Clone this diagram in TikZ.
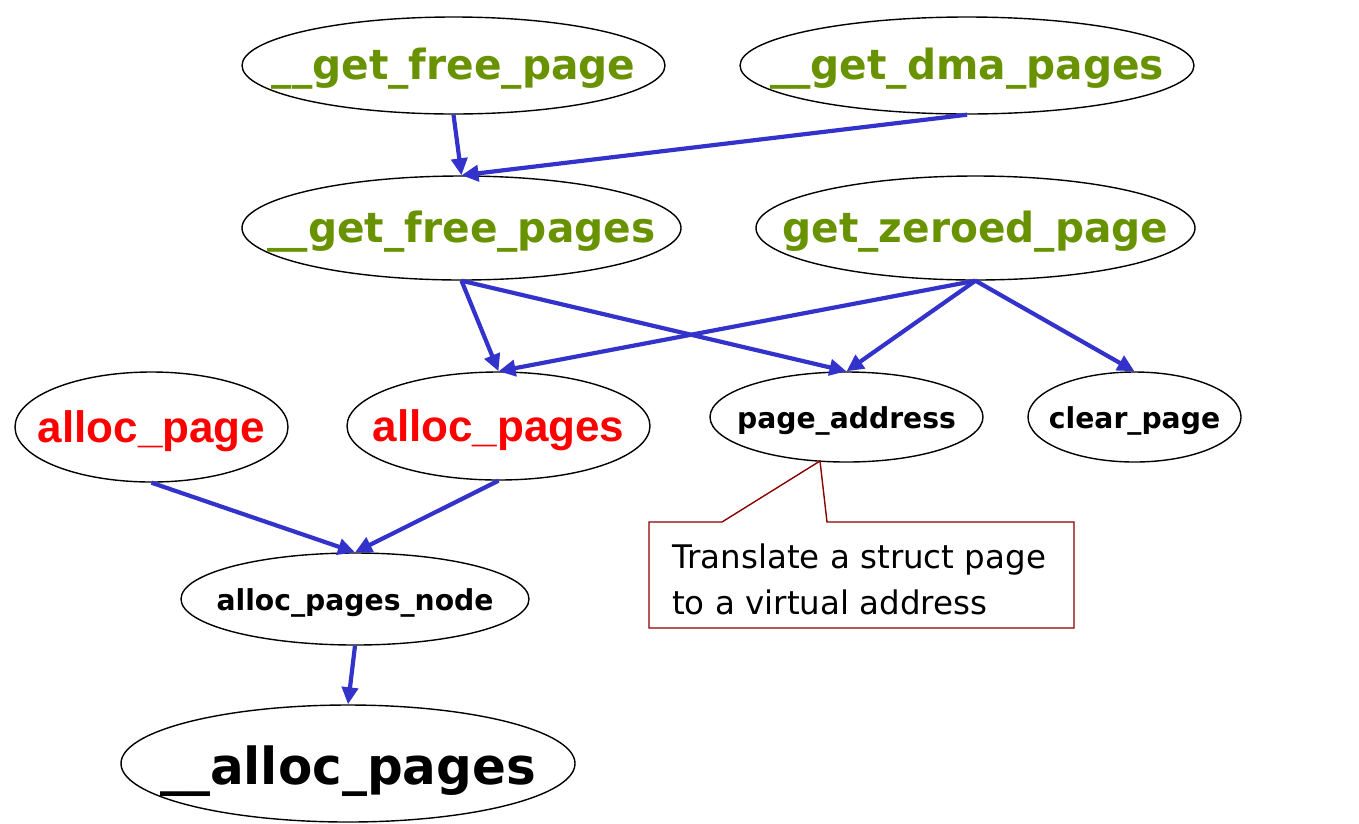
\documentclass[tikz,border=0pt]{standalone}
\usepackage{fontspec}
\usetikzlibrary{shapes.geometric,arrows.meta}
\newfontfamily\callfont[FakeStretch=0.98]{DejaVu Sans}
\newfontfamily\notefont{DejaVu Sans}
\newfontfamily\redfont{Liberation Sans}
\definecolor{fnGreen}{RGB}{104,146,0}
\definecolor{fnRed}{RGB}{255,0,0}
\definecolor{edgeBlue}{RGB}{51,51,204}
\definecolor{noteRed}{RGB}{140,0,0}
% centred label of zero width, drawn #1 lower than its box
\newcommand{\fnlabel}[2]{\makebox[0pt]{\raisebox{-#1pt}[\height][\depth]{#2}}}
\tikzset{
  fn/.style={ellipse, draw=black, line width=1.4pt, inner sep=0pt, fill=white},
  oval/.style 2 args={minimum width=#1pt, minimum height=#2pt},
  greenfn/.style={fn, text=fnGreen, font=\callfont\bfseries\fontsize{41.5}{48}\selectfont},
  redfn/.style={fn, text=fnRed, font=\redfont\bfseries\fontsize{44}{50}\selectfont},
  smallfn/.style={fn, text=black, font=\callfont\bfseries\fontsize{28.8}{34}\selectfont},
  bigfn/.style={fn, text=black, font=\callfont\bfseries\fontsize{51}{58}\selectfont},
  call/.style={draw=edgeBlue, line width=4.2pt, -{Triangle[length=17pt,width=16pt]}},
  noteline/.style={inner sep=0pt, anchor=base west, font=\notefont\fontsize{32.5}{46}\selectfont}
}
\begin{document}
\begin{tikzpicture}[x=1pt,y=-1pt]
\useasboundingbox (0,0) rectangle (1359,823);

% function nodes
\node[greenfn, oval={423}{97}]  (gfp)   at (453.5,65.5) {\fnlabel{3}{\_\_get\_free\_page}};
\node[greenfn, oval={454}{97}]  (gdma)  at (967,65.5)   {\fnlabel{3}{\_\_get\_dma\_pages}};
\node[greenfn, oval={439}{104}] (gfps)  at (461.5,228)  {\fnlabel{4}{\_\_get\_free\_pages}};
\node[greenfn, oval={439}{104}] (gzp)   at (975.5,228)  {\fnlabel{4}{get\_zeroed\_page}};
\node[redfn,   oval={273}{110}] (ap)    at (151.5,427)  {\fnlabel{4}{alloc\_page}};
\node[redfn,   oval={303}{108}] (aps)   at (498.5,426)  {\fnlabel{4}{alloc\_pages}};
\node[smallfn, oval={273}{90}]  (paddr) at (846.5,417)  {\fnlabel{4}{page\_address}};
\node[smallfn, oval={213}{90}]  (clr)   at (1134.5,417) {\fnlabel{4}{clear\_page}};
\node[smallfn, oval={348}{92}]  (apn)   at (355,599)    {\fnlabel{4}{alloc\_pages\_node}};
\node[bigfn,   oval={454}{117}] (alloc) at (348,763.5)  {\fnlabel{8}{\_\_alloc\_pages}};

% call edges
\draw[call] (gfp.south)  -- (gfps.north);
\draw[call] (gdma.south) -- (gfps.north);
\draw[call] (gfps.south) -- (aps.north);
\draw[call] (gfps.south) -- (paddr.north);
\draw[call] (gzp.south)  -- (aps.north);
\draw[call] (gzp.south)  -- (paddr.north);
\draw[call] (gzp.south)  -- (clr.north);
\draw[call] (ap.south)   -- (apn.north);
\draw[call] (aps.south)  -- (apn.north);
\draw[call] (apn.south)  -- (alloc.north);

% callout note for page_address
\coordinate (tip) at (820,461);
\draw[noteRed, line width=1.4pt, fill=white, line join=miter]
  (649,522) -- (722,522) -- (tip) -- (827,522) -- (1074,522)
  -- (1074,628) -- (649,628) -- cycle;
\node[noteline] (note1) at (672,568) {Translate a struct page};
\node[noteline] (note2) at (672,614) {to a virtual address};
\end{tikzpicture}
\end{document}
